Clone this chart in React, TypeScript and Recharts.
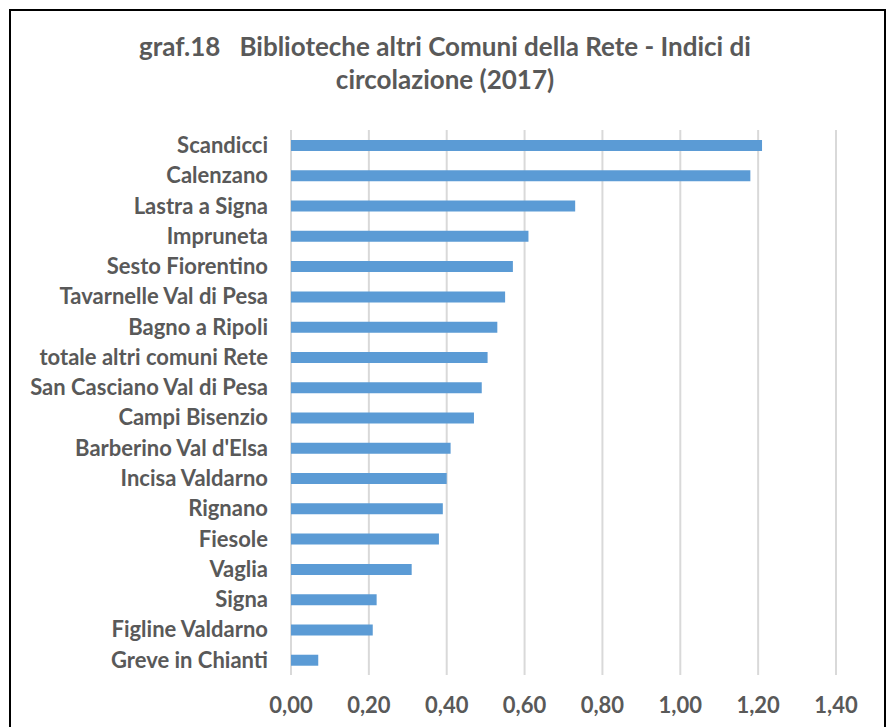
import React from 'react';
import { BarChart, Bar, XAxis, YAxis, CartesianGrid } from 'recharts';

// comuni, dall'alto verso il basso
const comuni = [
  'Scandicci',
  'Calenzano',
  'Lastra a Signa',
  'Impruneta',
  'Sesto Fiorentino',
  'Tavarnelle Val di Pesa',
  'Bagno a Ripoli',
  'totale altri comuni Rete',
  'San Casciano Val di Pesa',
  'Campi Bisenzio',
  "Barberino Val d'Elsa",
  'Incisa Valdarno',
  'Rignano',
  'Fiesole',
  'Vaglia',
  'Signa',
  'Figline Valdarno',
  'Greve in Chianti',
];

const indici = [
  1.21, 1.18, 0.73, 0.61, 0.57, 0.55, 0.53, 0.505, 0.49, 0.47, 0.41, 0.4, 0.39, 0.38, 0.31,
  0.22, 0.21, 0.07,
];

const xTicks = [0, 0.2, 0.4, 0.6, 0.8, 1.0, 1.2, 1.4];

const data = comuni.map((name, i) => ({ name, value: indici[i] }));

const FONT = 'Lato, "Open Sans", sans-serif';
const GREY = '#595959';

const fmt = (v: number) => v.toFixed(2).replace('.', ',');

export default function App() {
  return (
    <div style={{ position: 'relative', width: 887, height: 727, background: '#fff', fontFamily: FONT }}>
      <style>{`body{margin:0;overflow:hidden;}`}</style>
      <div
        style={{
          position: 'absolute',
          left: 9,
          top: 9,
          width: 873,
          height: 718,
          borderLeft: '2px solid #000',
          borderTop: '2px solid #000',
          borderRight: '2px solid #000',
        }}
      />
      <div
        style={{
          position: 'absolute',
          left: 0,
          width: 890,
          top: 30,
          textAlign: 'center',
          color: GREY,
          fontWeight: 700,
          fontSize: 26,
          lineHeight: '33px',
        }}
      >
        <div>graf.18&nbsp;&nbsp;&nbsp;Biblioteche altri Comuni della Rete - Indici di</div>
        <div>circolazione (2017)</div>
      </div>
      <div style={{ position: 'absolute', left: 0, top: 0 }}>
        <BarChart
          width={887}
          height={727}
          data={data}
          layout="vertical"
          margin={{ top: 130, right: 51, bottom: 12, left: 0 }}
          barCategoryGap={0}
        >
          <CartesianGrid horizontal={false} stroke="#d9d9d9" strokeWidth={2} />
          <XAxis
            type="number"
            domain={[0, 1.4]}
            ticks={xTicks}
            tickFormatter={fmt}
            axisLine={false}
            tickLine={false}
            tickMargin={16}
            height={40}
            tick={{ fill: GREY, fontSize: 22, fontWeight: 700, fontFamily: FONT }}
          />
          <YAxis
            type="category"
            dataKey="name"
            width={291}
            axisLine={false}
            tickLine={false}
            tickMargin={17}
            interval={0}
            tick={{ fill: GREY, fontSize: 22, fontWeight: 700, fontFamily: FONT }}
          />
          <Bar dataKey="value" fill="#5B9BD5" barSize={11} isAnimationActive={false} />
        </BarChart>
      </div>
    </div>
  );
}
